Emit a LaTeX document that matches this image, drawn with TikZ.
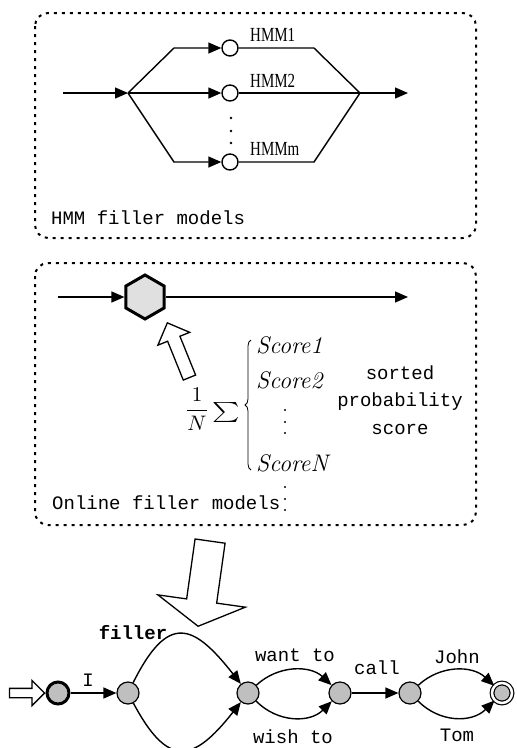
\documentclass[tikz,border=0pt]{standalone}
\usepackage{fontspec}
\setmonofont{Liberation Mono}
\newfontfamily\hmmfont{Liberation Serif}
\usetikzlibrary{arrows.meta,shapes.geometric,shapes.arrows,decorations.pathreplacing}

\begin{document}
\begin{tikzpicture}[x=1pt,y=-1pt,
    dotbox/.style={line width=2pt, dash pattern=on 3pt off 5pt, rounded corners=13pt},
    flow/.style={line width=1.4pt, -{Triangle[length=13pt,width=11pt]}},
    wire/.style={line width=1.4pt},
    hmmstate/.style={circle, draw, line width=1.4pt, fill=white, minimum size=16pt, inner sep=0pt},
    hexstate/.style={regular polygon, regular polygon sides=6, shape border rotate=30, draw, line width=3pt, fill=black!12, minimum size=44pt, inner sep=0pt},
    state/.style={circle, draw, line width=1.2pt, fill=black!25, minimum size=22pt, inner sep=0pt},
    hollow/.style={single arrow, draw, fill=white, line width=1.3pt, inner xsep=0pt},
    monotext/.style={font=\fontsize{19}{27.5}\selectfont\ttfamily, inner sep=0pt},
    hmmlabel/.style={font=\fontsize{20}{24}\selectfont\hmmfont, inner sep=0pt, anchor=west},
    score/.style={font=\fontsize{24}{28}\selectfont\itshape, inner sep=0pt, anchor=west}]
  \useasboundingbox (0,0) rectangle (517,748);

  \draw[dotbox] (35,13) rectangle (476,238);
  \draw[dotbox] (35,263) rectangle (476,525);

  \coordinate (src) at (63,93);
  \coordinate (split) at (128,93);
  \coordinate (merge) at (360,93);
  \coordinate (snk) at (408,93);
  \node[hmmstate] (h1) at (230,48) {};
  \node[hmmstate] (h2) at (230,93) {};
  \node[hmmstate] (hm) at (230,162) {};
  \draw[flow] (src) -- (split);
  \draw[flow] (split) -- ++(46,-45) -- (h1);
  \draw[flow] (split) -- (h2);
  \draw[flow] (split) -- ++(46,69) -- (hm);
  \draw[wire] (h1) -- ++(84,0) -- (merge);
  \draw[wire] (h2) -- (merge);
  \draw[wire] (hm) -- ++(84,0) -- (merge);
  \draw[flow] (merge) -- (snk);
  \node[hmmlabel] (l1) at (250,35) {\scalebox{0.75}[1]{HMM1}};
  \node[hmmlabel] (l2) at (250,81) {\scalebox{0.75}[1]{HMM2}};
  \node[hmmlabel] (lm) at (250,149) {\scalebox{0.75}[1]{HMMm}};
  \foreach \y in {118,131,143}
    \fill (231,\y) circle (1.3);
  \node[monotext, anchor=west] (t1) at (51,218) {HMM filler models};

  \coordinate (src2) at (58,297);
  \coordinate (snk2) at (408,297);
  \node[hexstate] (hx) at (145,297) {};
  \draw[flow] (src2) -- (hx);
  \draw[flow] (hx) -- (snk2);
  \node[hollow, inner ysep=6pt, minimum height=59pt, single arrow head extend=10.5pt, rotate=112, anchor=tip] (up) at (167,322) {};
  \node[inner sep=0pt] (frac) at (197,409) {\scalebox{2.1}{$\displaystyle\frac{1}{N}$}};
  \node[inner sep=0pt] (sumsign) at (226,412) {\scalebox{2.6}[2]{$\sum$}};
  \coordinate (bt) at (251,340);
  \coordinate (bb) at (251,470);
  \draw[line width=0.8pt, decorate, decoration={brace, amplitude=6pt}] (bb) -- (bt);
  \node[score] (s1) at (256,345) {Score1};
  \node[score] (s2) at (256,380) {Score2};
  \node[score] (sn) at (256,463) {ScoreN};
  \foreach \y in {410,422,433,487,499,510}
    \fill (285,\y) circle (1.2);
  \node[monotext, align=center] (sps) at (400,400) {sorted\\probability\\score};
  \node[monotext, anchor=west] (t2) at (52,503) {Online filler models};

  \node[hollow, inner ysep=14.5pt, minimum height=86pt, single arrow head extend=29pt, single arrow tip angle=120, rotate=-98, anchor=tip] (down) at (198,627) {};

  \node[state, line width=3pt] (q0) at (58,693) {};
  \node[state] (q1) at (128,693) {};
  \node[state] (q2) at (248,693) {};
  \node[state] (q3) at (340,693) {};
  \node[state] (q4) at (410,693) {};
  \node[state, double, double distance=2.5pt, minimum size=20pt] (q5) at (502,693) {};
  \node[hollow, inner ysep=4pt, minimum height=35pt, single arrow head extend=8pt, anchor=tip] (entry) at (q0.west) {};
  \draw[flow] (q0) -- (q1);
  \draw[flow] (q1) .. controls +(40,-80) and +(-55,-70) .. (q2);
  \draw[flow] (q1) .. controls +(40,75) and +(-55,70) .. (q2);
  \draw[flow] (q2) .. controls +(30,-28) and +(-30,-28) .. (q3);
  \draw[flow] (q2) .. controls +(30,30) and +(-30,30) .. (q3);
  \draw[flow] (q3) -- (q4);
  \draw[flow] (q4) .. controls +(30,-28) and +(-30,-28) .. (q5);
  \draw[flow] (q4) .. controls +(30,30) and +(-30,30) .. (q5);
  \node[monotext] (lI) at (88,680) {I};
  \node[monotext, font=\fontsize{19}{24}\selectfont\ttfamily\bfseries] (lfill) at (133,633) {filler};
  \node[monotext] (lwant) at (295,655) {want to};
  \node[monotext] (lwish) at (293,737) {wish to};
  \node[monotext] (lcall) at (377,668) {call};
  \node[monotext] (ljohn) at (457,657) {John};
  \node[monotext] (ltom) at (457,735) {Tom};
\end{tikzpicture}
\end{document}
